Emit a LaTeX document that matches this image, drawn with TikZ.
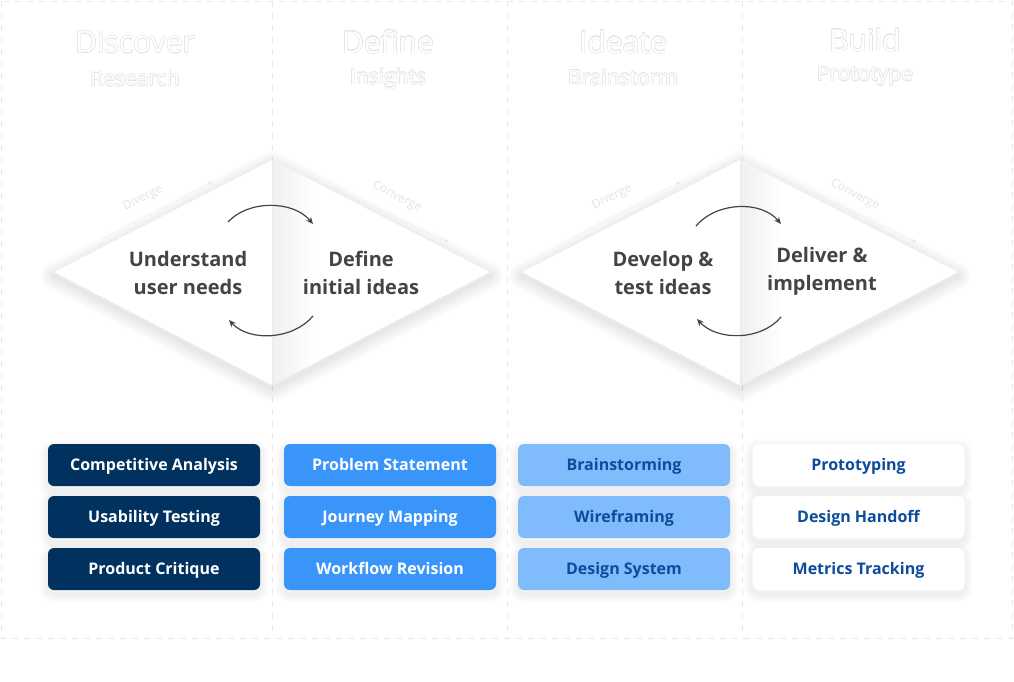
\documentclass[tikz,border=0pt]{standalone}
\usepackage{fontspec}
\setmainfont{Open Sans}
\usepackage{contour}
\contourlength{0.45pt}
\usetikzlibrary{arrows.meta}
\definecolor{navy}{HTML}{00315F}
\definecolor{midblue}{HTML}{3A95FA}
\definecolor{lightblue}{HTML}{80BBFB}
\definecolor{inkblue}{HTML}{0B4C9C}
\definecolor{darktext}{HTML}{444444}
\definecolor{faint}{HTML}{E4E4E4}
\definecolor{border}{HTML}{E9E9E9}
\newcommand{\ghost}[1]{\contour{black!10}{\textcolor{white}{#1}}}
\begin{document}
\begin{tikzpicture}[x=1pt,y=-1pt,
  frame/.style={border, line width=0.8pt, dash pattern=on 6pt off 6pt},
  title/.style={font=\fontsize{30}{33}\selectfont},
  subtitle/.style={font=\fontsize{21}{24}\selectfont},
  softshadow/.style={black, opacity=0.009, line join=round},
  dtext/.style={align=center, text=darktext, font=\bfseries\fontsize{20}{28}\selectfont},
  cyc/.style={darktext, line width=1.2pt, -{Stealth[length=7pt,width=6pt]}},
  edgelabel/.style={text=faint, font=\fontsize{12}{14}\selectfont, inner sep=0pt},
  edgeline/.style={faint, line width=0.8pt, dotted, -{Stealth[length=4pt]}},
  taskbox/.style={rounded corners=6pt, minimum width=212pt, minimum height=42pt, inner sep=0pt,
    text height=11.4pt, text depth=0pt,
    font=\bfseries\fontsize{16}{18}\selectfont},
  navybox/.style={taskbox, fill=navy, text=white},
  bluebox/.style={taskbox, fill=midblue, text=white},
  lightbox/.style={taskbox, fill=lightblue, text=inkblue},
  whitebox/.style={taskbox, fill=white, text=inkblue}
]
\useasboundingbox (0,0) rectangle (1014,682);
\fill[white] (0,0) rectangle (1014,682);

% frame and column dividers
\draw[frame] (1,1) rectangle (1012,638);
\foreach \xx in {272,507,742} \draw[frame] (\xx,1) -- (\xx,638);

% column titles
\node[title] (t1) at (135,42) {\ghost{Discover}};
\node[subtitle] (s1) at (135,78) {\ghost{Research}};
\node[title] (t2) at (388,42) {\ghost{Define}};
\node[subtitle] (s2) at (388,79) {\ghost{Insights}};
\node[title] (t3) at (623,42) {\ghost{Ideate}};
\node[subtitle] (s3) at (623,78) {\ghost{Brainstorm}};
\node[title] (t4) at (865,40) {\ghost{Build}};
\node[subtitle] (s4) at (865,76) {\ghost{Prototype}};

% diamonds
\foreach \cx in {272,740}{
  \foreach \i in {1,...,12}
    \draw[softshadow, line width=\i*2.2pt] (\cx-218,276) -- (\cx,164) -- (\cx+218,276) -- (\cx,389) -- cycle;
  \fill[white] (\cx-218,272) -- (\cx,160) -- (\cx+218,272) -- (\cx,385) -- cycle;
  \begin{scope}
    \clip (\cx,160) -- (\cx+218,272) -- (\cx,385) -- cycle;
    \shade[left color=black!6, right color=white] (\cx,160) rectangle (\cx+42,385);
  \end{scope}
  \draw[black!8, line width=0.6pt] (\cx,160) -- (\cx,385);
}

% edge labels
\node[edgelabel, rotate=27] (dv1) at (143,198) {Diverge};
\node[edgelabel, rotate=-27] (cv1) at (397,197) {Converge};
\node[edgelabel, rotate=27] (dv2) at (612,197) {Diverge};
\node[edgelabel, rotate=-27] (cv2) at (855,195) {Converge};
\coordinate (dl1a) at (104,238); \coordinate (dl1b) at (212,182);
\coordinate (cl1a) at (334,188); \coordinate (cl1b) at (448,242);
\coordinate (dl2a) at (572,238); \coordinate (dl2b) at (680,182);
\coordinate (cl2a) at (802,188); \coordinate (cl2b) at (916,242);
\draw[edgeline] (dl1a) -- (dl1b);
\draw[edgeline] (cl1a) -- (cl1b);
\draw[edgeline] (dl2a) -- (dl2b);
\draw[edgeline] (cl2a) -- (cl2b);

% diamond texts
\node[dtext] (u1) at (188,273) {Understand\\user needs};
\node[dtext] (u2) at (361,273) {Define\\initial ideas};
\node[dtext] (u3) at (663,273) {Develop \&\\test ideas};
\node[dtext] (u4) at (822,271) {Deliver \&\\implement};

% cycle arrows
\coordinate (a1s) at (228,222); \coordinate (a1e) at (313,224);
\coordinate (b1s) at (313,316); \coordinate (b1e) at (229,320);
\coordinate (a2s) at (696,226); \coordinate (a2e) at (781,224);
\coordinate (b2s) at (781,317); \coordinate (b2e) at (697,319);
\draw[cyc] (a1s) .. controls (248,200) and (293,200) .. (a1e);
\draw[cyc] (b1s) .. controls (293,340) and (249,342) .. (b1e);
\draw[cyc] (a2s) .. controls (716,202) and (761,200) .. (a2e);
\draw[cyc] (b2s) .. controls (761,341) and (717,341) .. (b2e);

% soft shadows under the task boxes
\foreach \bx in {154,390,624,858.5}
  \foreach \by in {465,517,569}
    \foreach \i in {1,...,8}
      \draw[softshadow, rounded corners=6pt, line width=\i*2.2pt] (\bx-106,\by-17) rectangle (\bx+106,\by+25);

% task boxes
\node[navybox] (c1) at (154,465) {Competitive Analysis};
\node[navybox] (c2) at (154,517) {Usability Testing};
\node[navybox] (c3) at (154,569) {Product Critique};
\node[bluebox] (p1) at (390,465) {Problem Statement};
\node[bluebox] (p2) at (390,517) {Journey Mapping};
\node[bluebox] (p3) at (390,569) {Workflow Revision};
\node[lightbox] (b1) at (624,465) {Brainstorming};
\node[lightbox] (b2) at (624,517) {Wireframing};
\node[lightbox] (b3) at (624,569) {Design System};
\node[whitebox] (w1) at (858.5,465) {Prototyping};
\node[whitebox] (w2) at (858.5,517) {Design Handoff};
\node[whitebox] (w3) at (858.5,569) {Metrics Tracking};
\end{tikzpicture}
\end{document}
